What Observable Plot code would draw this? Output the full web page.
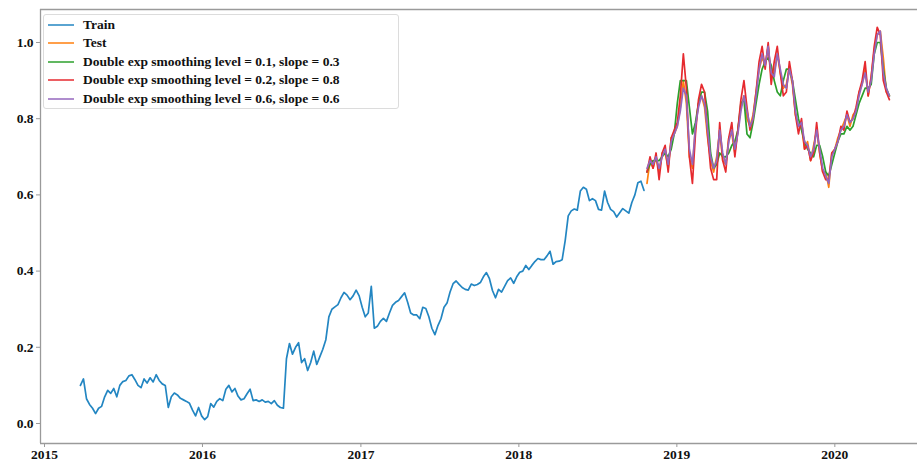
<!DOCTYPE html>
<html>
<head>
<meta charset="utf-8">
<script src="https://cdn.jsdelivr.net/npm/d3@7"></script>
<script src="https://cdn.jsdelivr.net/npm/@observablehq/plot@0.6"></script>
<style>
  body { margin: 0; background: #fff; }
  #chart { position: relative; width: 917px; height: 464px; }
  .legend {
    position: absolute; left: 43px; top: 14px; width: 356px; height: 95px;
    box-sizing: border-box; border: 1px solid #dcdcdc; border-radius: 3px;
    background: rgba(255,255,255,0.85);
    font: bold 13.5px "Liberation Serif", "Times New Roman", serif; color: #111;
  }
  .legend .row { position: absolute; left: 0; height: 18px; display: flex; align-items: center; white-space: nowrap; }
  .legend .sw { width: 26px; height: 2px; margin-left: 4px; margin-right: 9px; }
</style>
</head>
<body>
<div id="chart"></div>
<script>
// Weekly closing values (normalised), training period
const trainStart = "2015-03-25";
const trainValues = [
  0.100, 0.117, 0.065, 0.050, 0.040, 0.026, 0.040, 0.045, 0.070, 0.087,
  0.079, 0.092, 0.070, 0.100, 0.110, 0.113, 0.125, 0.128, 0.115, 0.100,
  0.094, 0.117, 0.106, 0.120, 0.109, 0.128, 0.113, 0.104, 0.100, 0.042,
  0.070, 0.080, 0.075, 0.066, 0.062, 0.058, 0.053, 0.035, 0.020, 0.042,
  0.020, 0.010, 0.018, 0.052, 0.043, 0.058, 0.065, 0.060, 0.090, 0.100,
  0.083, 0.092, 0.072, 0.062, 0.065, 0.078, 0.090, 0.060, 0.062, 0.058,
  0.062, 0.056, 0.058, 0.052, 0.060, 0.048, 0.042, 0.040, 0.170, 0.210,
  0.182, 0.200, 0.212, 0.160, 0.170, 0.139, 0.160, 0.190, 0.155, 0.175,
  0.195, 0.220, 0.280, 0.300, 0.306, 0.312, 0.330, 0.344, 0.337, 0.325,
  0.335, 0.350, 0.335, 0.305, 0.280, 0.290, 0.360, 0.250, 0.255, 0.268,
  0.276, 0.268, 0.290, 0.310, 0.318, 0.323, 0.333, 0.343, 0.318, 0.290,
  0.285, 0.285, 0.275, 0.305, 0.302, 0.280, 0.250, 0.233, 0.257, 0.275,
  0.305, 0.316, 0.345, 0.367, 0.374, 0.365, 0.357, 0.352, 0.350, 0.366,
  0.362, 0.365, 0.370, 0.385, 0.396, 0.380, 0.349, 0.330, 0.352, 0.345,
  0.360, 0.375, 0.382, 0.368, 0.385, 0.397, 0.400, 0.415, 0.404, 0.415,
  0.425, 0.433, 0.430, 0.430, 0.440, 0.452, 0.418, 0.425, 0.426, 0.430,
  0.480, 0.545, 0.558, 0.563, 0.560, 0.610, 0.620, 0.615, 0.585, 0.590,
  0.585, 0.562, 0.560, 0.610, 0.580, 0.562, 0.556, 0.542, 0.553, 0.564,
  0.558, 0.552, 0.580, 0.600, 0.632, 0.636, 0.612
];

// Test period (weekly, continuing right after the training period)
const testValues = [
  0.63, 0.69, 0.67, 0.70, 0.66, 0.71, 0.71, 0.67, 0.75, 0.76,
  0.78, 0.83, 0.90, 0.84, 0.70, 0.67, 0.78, 0.84, 0.86, 0.83,
  0.75, 0.69, 0.66, 0.70, 0.77, 0.69, 0.68, 0.75, 0.76, 0.71,
  0.77, 0.83, 0.86, 0.80, 0.78, 0.81, 0.87, 0.93, 0.96, 0.94,
  0.99, 0.91, 0.92, 0.97, 0.92, 0.88, 0.89, 0.93, 0.89, 0.81,
  0.78, 0.78, 0.72, 0.74, 0.69, 0.73, 0.77, 0.71, 0.66, 0.66,
  0.62, 0.71, 0.72, 0.75, 0.77, 0.79, 0.81, 0.78, 0.81, 0.82,
  0.87, 0.89, 0.93, 0.86, 0.91, 0.98, 1.02, 1.03, 0.96, 0.87,
  0.86
];

// Double exponential smoothing, level = 0.1, slope = 0.3
const des_01_03 = [
  0.66, 0.68, 0.69, 0.69, 0.69, 0.70, 0.71, 0.70, 0.72, 0.76,
  0.84, 0.90, 0.90, 0.90, 0.83, 0.76, 0.79, 0.84, 0.87, 0.87,
  0.82, 0.71, 0.67, 0.68, 0.71, 0.70, 0.70, 0.71, 0.73, 0.74,
  0.77, 0.84, 0.85, 0.76, 0.75, 0.79, 0.84, 0.89, 0.93, 0.95,
  0.96, 0.94, 0.90, 0.87, 0.86, 0.90, 0.93, 0.93, 0.90, 0.85,
  0.80, 0.77, 0.74, 0.72, 0.71, 0.70, 0.73, 0.73, 0.70, 0.66,
  0.65, 0.68, 0.71, 0.74, 0.76, 0.76, 0.78, 0.77, 0.78, 0.81,
  0.84, 0.86, 0.88, 0.88, 0.89, 0.97, 1.00, 1.00, 0.93, 0.88,
  0.86
];

// Double exponential smoothing, level = 0.2, slope = 0.8
const des_02_08 = [
  0.66, 0.70, 0.67, 0.71, 0.64, 0.71, 0.73, 0.66, 0.75, 0.77,
  0.79, 0.86, 0.97, 0.88, 0.70, 0.63, 0.76, 0.85, 0.89, 0.87,
  0.76, 0.67, 0.64, 0.64, 0.79, 0.69, 0.66, 0.75, 0.79, 0.70,
  0.77, 0.85, 0.90, 0.83, 0.77, 0.80, 0.87, 0.95, 0.99, 0.93,
  1.00, 0.89, 0.95, 0.99, 0.92, 0.86, 0.87, 0.95, 0.90, 0.81,
  0.76, 0.80, 0.72, 0.73, 0.69, 0.71, 0.79, 0.71, 0.66, 0.64,
  0.64, 0.71, 0.72, 0.74, 0.78, 0.77, 0.82, 0.79, 0.80, 0.83,
  0.87, 0.90, 0.95, 0.86, 0.91, 0.99, 1.04, 1.02, 0.90, 0.87,
  0.85
];

// Double exponential smoothing, level = 0.6, slope = 0.6
const des_06_06 = [
  0.67, 0.69, 0.68, 0.70, 0.67, 0.70, 0.72, 0.68, 0.74, 0.76,
  0.78, 0.82, 0.88, 0.86, 0.72, 0.68, 0.78, 0.83, 0.86, 0.84,
  0.77, 0.70, 0.67, 0.69, 0.77, 0.71, 0.68, 0.74, 0.77, 0.72,
  0.76, 0.82, 0.86, 0.82, 0.78, 0.80, 0.86, 0.93, 0.97, 0.94,
  0.99, 0.92, 0.91, 0.97, 0.93, 0.89, 0.88, 0.93, 0.90, 0.82,
  0.78, 0.79, 0.74, 0.73, 0.70, 0.72, 0.77, 0.72, 0.67, 0.65,
  0.63, 0.70, 0.72, 0.74, 0.77, 0.78, 0.81, 0.79, 0.80, 0.82,
  0.86, 0.89, 0.92, 0.87, 0.90, 0.97, 1.02, 1.03, 0.92, 0.88,
  0.86
];

const seriesNames = [
  "Train",
  "Test",
  "Double exp smoothing level = 0.1, slope = 0.3",
  "Double exp smoothing level = 0.2, slope = 0.8",
  "Double exp smoothing level = 0.6, slope = 0.6"
];
const seriesColors = ["#2386c2", "#ff7f0e", "#2ca02c", "#e62a2f", "#9467bd"];

const xTickYears = [2015, 2016, 2017, 2018, 2019, 2020];
const yTicks = [0.0, 0.2, 0.4, 0.6, 0.8, 1.0];
const xDomain = [new Date("2014-12-22T18:00Z"), new Date("2020-07-10T00:00Z")];
const yDomain = [-0.0525, 1.0866];

// Build tidy rows
const week = i => d3.utcDay.offset(new Date(trainStart + "T00:00Z"), 7 * i);
const train = trainValues.map((v, i) => ({date: week(i), value: v}));
const n0 = trainValues.length;
const asRows = arr => arr.map((v, j) => ({date: week(n0 + j), value: v}));
const test = asRows(testValues);
const s1 = asRows(des_01_03);
const s2 = asRows(des_02_08);
const s3 = asRows(des_06_06);

const lineOpts = c => ({x: "date", y: "value", stroke: c, strokeWidth: 1.7, curve: "linear"});
const frameColor = "#9a9a9a";

const chart = Plot.plot({
  width: 917,
  height: 464,
  marginLeft: 40,
  marginRight: 0,
  marginTop: 9,
  marginBottom: 21,
  style: {fontFamily: '"Liberation Serif", "Times New Roman", serif', fontSize: "13.5px", fontWeight: "bold", background: "#fff"},
  x: {type: "utc", domain: xDomain},
  y: {domain: yDomain},
  marks: [
    Plot.ruleX([xDomain[0]], {stroke: frameColor, strokeWidth: 1.3}),
    Plot.ruleY(yDomain, {stroke: frameColor, strokeWidth: 1.3}),
    Plot.axisX({
      ticks: xTickYears.map(y => new Date(Date.UTC(y, 0, 1))),
      tickFormat: d3.utcFormat("%Y"),
      tickSize: 4, tickPadding: 2, stroke: frameColor, fill: "#111", label: null
    }),
    Plot.axisY({
      ticks: yTicks, tickFormat: d3.format(".1f"),
      tickSize: 4, tickPadding: 3, stroke: frameColor, fill: "#111", label: null
    }),
    Plot.lineY(train, lineOpts(seriesColors[0])),
    Plot.lineY(test, lineOpts(seriesColors[1])),
    Plot.lineY(s1, lineOpts(seriesColors[2])),
    Plot.lineY(s2, lineOpts(seriesColors[3])),
    Plot.lineY(s3, lineOpts(seriesColors[4]))
  ]
});

const root = document.getElementById("chart");
root.appendChild(chart);

// Legend box in the upper-left corner of the axes
const legend = document.createElement("div");
legend.className = "legend";
seriesNames.forEach((name, i) => {
  const row = document.createElement("div");
  row.className = "row";
  row.style.top = (1 + i * 18.4) + "px";
  const sw = document.createElement("span");
  sw.className = "sw";
  sw.style.background = seriesColors[i];
  sw.style.opacity = 0.75;
  const label = document.createElement("span");
  label.textContent = name;
  row.appendChild(sw);
  row.appendChild(label);
  legend.appendChild(row);
});
root.appendChild(legend);
</script>
</body>
</html>
